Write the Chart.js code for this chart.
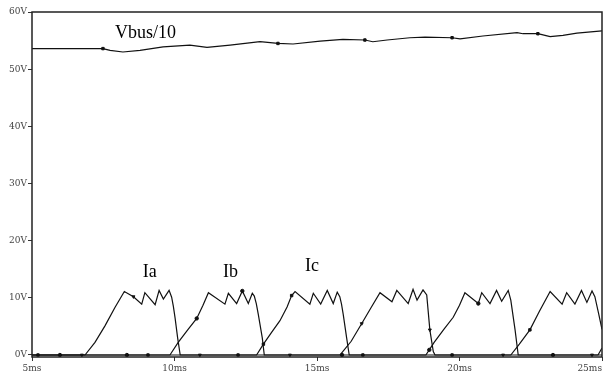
<!DOCTYPE html>
<html>
<head>
<meta charset="utf-8">
<title>Vbus and phase currents</title>
<script src="https://cdn.jsdelivr.net/npm/chart.js@4.4.1/dist/chart.umd.min.js"></script>
<style>
  body { margin: 0; background: #fff; }
</style>
</head>
<body>
<canvas id="scope" width="603" height="380"></canvas>
<script>
// time in ms, values in V
const tVbus = [5.0, 7.49, 7.74, 8.19, 8.79, 9.6, 10.54, 11.14, 11.95, 13.0, 13.63, 14.16, 15.11, 15.91, 16.68, 16.96, 17.46, 18.26, 18.79, 19.74, 20.02, 20.82, 22.02, 22.23, 22.75, 23.18, 23.63, 24.12, 25.0];
const vBus  = [53.6, 53.6, 53.3, 53.0, 53.3, 53.9, 54.2, 53.8, 54.2, 54.8, 54.5, 54.4, 54.9, 55.2, 55.1, 54.8, 55.1, 55.5, 55.6, 55.5, 55.3, 55.8, 56.4, 56.2, 56.2, 55.7, 55.9, 56.3, 56.7];
const vBusMarks = [7.49, 13.63, 16.68, 19.74, 22.75];

const tIa = [5.0, 6.75, 6.86, 7.21, 7.56, 7.91, 8.24, 8.56, 8.85, 8.96, 9.32, 9.46, 9.61, 9.81, 9.90, 9.96, 10.02, 10.11, 10.20, 10.89, 14.05, 15.81, 16.2, 16.57, 16.9, 17.21, 17.63, 17.8, 18.2, 18.37, 18.51, 18.72, 18.85, 18.96, 19.08, 19.14, 21.53, 24.65, 24.86, 25.0];
const ia  = [0, 0, 0, 2.2, 5.1, 8.3, 11.1, 10.2, 8.9, 10.9, 8.8, 11.3, 9.8, 11.3, 10.1, 8.5, 6.5, 3.0, 0, 0, 0, 0, 2.4, 5.5, 8.3, 10.9, 9.3, 11.3, 9.0, 11.5, 9.6, 11.4, 10.5, 4.4, 0.6, 0, 0, 0, 0, 1.2];
const iaMarks = [6.75, 8.56, 10.89, 14.05, 16.57, 18.96, 21.53, 24.65];

const tIb = [5.0, 5.98, 8.33, 9.84, 10.13, 10.45, 10.78, 11.0, 11.19, 11.77, 11.89, 12.18, 12.38, 12.59, 12.73, 12.80, 12.87, 12.94, 13.08, 13.15, 15.88, 18.82, 18.94, 19.11, 19.45, 19.78, 20.0, 20.19, 20.66, 20.78, 21.07, 21.3, 21.48, 21.71, 21.8, 21.95, 22.06, 23.28, 25.0];
const ib  = [0, 0, 0, 0, 2.2, 4.3, 6.4, 8.7, 10.9, 8.9, 10.8, 9.0, 11.2, 9.0, 10.8, 10.3, 9.0, 7.1, 3.0, 0, 0, 0, 0.9, 2.2, 4.5, 6.6, 8.7, 10.9, 9.0, 10.9, 9.0, 11.3, 9.4, 11.3, 9.6, 4.4, 0, 0, 0];
const ibMarks = [5.98, 8.33, 10.78, 12.38, 15.88, 18.94, 20.66, 23.28];

const tIc = [5.0, 5.21, 9.07, 12.23, 12.88, 13.12, 13.4, 13.70, 13.95, 14.11, 14.23, 14.75, 14.87, 15.13, 15.36, 15.57, 15.71, 15.80, 15.86, 15.92, 16.04, 16.13, 16.61, 19.74, 21.8, 22.1, 22.47, 22.8, 23.18, 23.6, 23.76, 24.05, 24.28, 24.47, 24.65, 24.75, 24.88, 25.0];
const ic  = [0, 0, 0, 0, 0, 1.9, 3.9, 6.0, 8.4, 10.4, 11.1, 8.9, 10.8, 8.9, 11.3, 9.0, 11.0, 10.2, 8.9, 7.1, 3.0, 0, 0, 0, 0, 1.9, 4.4, 7.6, 11.1, 8.9, 10.9, 8.9, 11.3, 9.2, 11.2, 10.2, 7.3, 4.5];
const icMarks = [5.21, 9.07, 12.23, 13.12, 14.11, 16.61, 19.74, 22.47];

const yTicks = [0, 10, 20, 30, 40, 50, 60];

// trace names and where they sit (ms, V)
const traceNames = ['Vbus/10', 'Ia', 'Ib', 'Ic'];
const nameT = [7.91, 8.89, 11.70, 14.58];
const nameV = [55.4, 13.6, 13.6, 14.7];

function pts(t, v) {
  return t.map((x, i) => ({ x: x, y: v[i] }));
}

function trace(label, t, v, marks, style, rot) {
  return {
    label: label,
    data: pts(t, v),
    borderColor: '#111',
    backgroundColor: '#111',
    borderWidth: 1.2,
    tension: 0,
    pointStyle: style,
    rotation: rot || 0,
    pointRadius: ctx => (ctx.raw && marks.includes(ctx.raw.x)) ? 1.7 : 0,
    pointBorderWidth: 1
  };
}

const scopeFrame = {
  id: 'scopeFrame',
  afterDraw(chart) {
    const { ctx, chartArea: a, scales: { x, y } } = chart;
    ctx.save();
    ctx.strokeStyle = '#222';
    ctx.lineWidth = 1.5;
    ctx.strokeRect(a.left, a.top, a.right - a.left, a.bottom - a.top);

    // time labels, last one kept inside the canvas
    ctx.font = '9px "DejaVu Serif"';
    ctx.fillStyle = '#444';
    ctx.textBaseline = 'top';
    x.ticks.forEach((tk, i) => {
      ctx.textAlign = i === x.ticks.length - 1 ? 'right' : 'center';
      ctx.fillText(tk.value + 'ms', x.getPixelForValue(tk.value), a.bottom + 7);
    });

    ctx.font = '18px "Liberation Serif"';
    ctx.fillStyle = '#000';
    ctx.textAlign = 'left';
    ctx.textBaseline = 'alphabetic';
    traceNames.forEach((s, i) => {
      ctx.fillText(s, x.getPixelForValue(nameT[i]), y.getPixelForValue(nameV[i]));
    });
    ctx.restore();
  }
};

new Chart(document.getElementById('scope'), {
  type: 'line',
  data: {
    datasets: [
      trace('Vbus/10', tVbus, vBus, vBusMarks, 'rect'),
      trace('Ia', tIa, ia, iaMarks, 'triangle', 180),
      trace('Ib', tIb, ib, ibMarks, 'circle'),
      trace('Ic', tIc, ic, icMarks, 'rect')
    ]
  },
  options: {
    responsive: false,
    animation: false,
    events: [],
    layout: { padding: { top: 12, right: 1, left: 0, bottom: 0 } },
    plugins: {
      legend: { display: false },
      tooltip: { enabled: false }
    },
    scales: {
      x: {
        type: 'linear',
        min: 5,
        max: 25,
        ticks: { stepSize: 5, display: false },
        grid: { drawOnChartArea: false, drawTicks: true, tickLength: 4, color: '#333' },
        border: { display: false },
        afterFit(s) { s.height = 23; s.paddingLeft = 0; s.paddingRight = 0; }
      },
      y: {
        min: -0.35,
        max: 60,
        afterBuildTicks(s) { s.ticks = yTicks.map(v => ({ value: v })); },
        ticks: {
          padding: 1,
          color: '#444',
          font: { family: 'DejaVu Serif', size: 9 },
          callback: v => v + 'V'
        },
        grid: { drawOnChartArea: false, drawTicks: true, tickLength: 4, color: '#333' },
        border: { display: false },
        afterFit(s) { s.width = 32; }
      }
    }
  },
  plugins: [scopeFrame]
});
</script>
</body>
</html>
